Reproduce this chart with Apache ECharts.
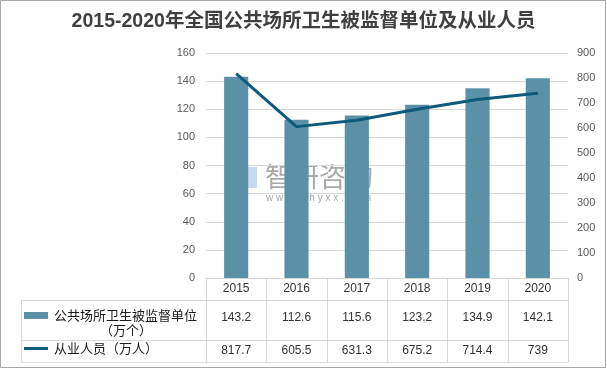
<!DOCTYPE html>
<html><head><meta charset="utf-8">
<script src="https://cdn.jsdelivr.net/npm/echarts@6/dist/echarts.min.js"></script>
<style>html,body{margin:0;padding:0;background:#fff}#c{width:607px;height:369px}</style>
</head><body><div id="c"></div>
<script>
const years = ['2015','2016','2017','2018','2019','2020'];
const units = [143.2, 112.6, 115.6, 123.2, 134.9, 142.1];
const staff = [817.7, 605.5, 631.3, 675.2, 714.4, 739];
const leftTicks = [0, 20, 40, 60, 80, 100, 120, 140, 160];
const rightTicks = [0, 100, 200, 300, 400, 500, 600, 700, 800, 900];
const title = '2015-2020年全国公共场所卫生被监督单位及从业人员';
const seriesNames = ['公共场所卫生被监督单位', '（万个）', '从业人员（万人）'];

const barColor = '#5b91a7', lineColor = '#0d5a79', gridColor = '#d9d9d9';
const FF = '"Liberation Sans","Noto Sans CJK SC",sans-serif';
const chart = echarts.init(document.getElementById('c'));
const G = {left: 206, right: 39, top: 53, bottom: 91};
const x0 = G.left, x1 = 607 - G.right, yAxis0 = 369 - G.bottom;
const rowLines = [300, 340, 362], tableLeft = 21;
const colW = (x1 - x0) / years.length;
const gfx = [];
gfx.push({type:'rect', shape:{x:0.5,y:0.5,width:605,height:367}, style:{fill:null, stroke:'#a6a6a6', lineWidth:1}, silent:true});
rowLines.forEach(y => gfx.push({type:'line', shape:{x1:tableLeft,y1:y+0.5,x2:x1,y2:y+0.5}, style:{stroke:gridColor,lineWidth:1}}));
for (let i = 0; i <= years.length; i++) {
  const x = Math.round(x0 + i*colW) + 0.5;
  gfx.push({type:'line', shape:{x1:x,y1:yAxis0,x2:x,y2:rowLines[2]}, style:{stroke:gridColor,lineWidth:1}});
}
gfx.push({type:'line', shape:{x1:tableLeft+0.5,y1:rowLines[0],x2:tableLeft+0.5,y2:rowLines[2]}, style:{stroke:gridColor,lineWidth:1}});
gfx.push({type:'rect', shape:{x:24,y:312,width:24,height:7}, style:{fill:barColor}});
gfx.push({type:'text', x:54, y:316, style:{text:seriesNames[0], font:'13px '+FF, fill:'#1a1a1a', verticalAlign:'middle'}});
gfx.push({type:'text', x:126, y:331, style:{text:seriesNames[1], font:'13px '+FF, fill:'#1a1a1a', align:'center', verticalAlign:'middle'}});
gfx.push({type:'rect', shape:{x:24,y:347,width:24,height:3}, style:{fill:lineColor}});
gfx.push({type:'text', x:54, y:349, style:{text:seriesNames[2], font:'13px '+FF, fill:'#1a1a1a', verticalAlign:'middle'}});
// watermark (behind bars)
const wm = [
  {type:'rect', shape:{x:233,y:167,width:11,height:21}, style:{fill:'rgba(70,120,190,0.45)'}},
  {type:'rect', shape:{x:246,y:167,width:11,height:21}, style:{fill:'rgba(70,130,210,0.30)'}},
  {type:'text', x:265, y:177, style:{text:'智研咨询', font:'27px "Noto Sans CJK SC"', fill:'rgba(140,140,140,0.75)', verticalAlign:'middle'}},
  {type:'text', x:266, y:198, style:{text:'w w w . c h y x x . c o m', font:'10px '+FF, fill:'rgba(140,140,140,0.75)', verticalAlign:'middle'}}
];
wm.forEach(e => { e.silent = true; gfx.push(e); });

chart.setOption({
  animation:false,
  title:{text:title, left:'center', top:7, textStyle:{fontSize:19.5, fontWeight:'bold', color:'#404040', fontFamily:FF}},
  grid:G,
  xAxis:{type:'category', data:years, axisTick:{show:false},
    axisLine:{lineStyle:{color:gridColor}},
    axisLabel:{margin:0, interval:0, fontFamily:FF,
      formatter:(v, i) => '{a|'+v+'}\n{b|'+units[i]+'}\n{c|'+staff[i]+'}',
      rich:{a:{lineHeight:22,fontSize:12,color:'#333',fontFamily:FF},
            b:{lineHeight:36,fontSize:12,color:'#333',fontFamily:FF},
            c:{lineHeight:30,fontSize:12,color:'#333',fontFamily:FF}}}},
  yAxis:[
    {type:'value', min:leftTicks[0], max:leftTicks[leftTicks.length-1], interval:leftTicks[1]-leftTicks[0],
     axisLabel:{color:'#595959', fontSize:11, fontFamily:FF, margin:11},
     splitLine:{lineStyle:{color:gridColor}}, axisLine:{show:false}, axisTick:{show:false}},
    {type:'value', min:rightTicks[0], max:rightTicks[rightTicks.length-1], interval:rightTicks[1]-rightTicks[0],
     axisLabel:{color:'#595959', fontSize:11, fontFamily:FF, margin:9},
     splitLine:{show:false}, axisLine:{show:false}, axisTick:{show:false}}
  ],
  series:[
    {name:seriesNames[0], type:'bar', data:units, barWidth:'40%', itemStyle:{color:barColor}},
    {name:seriesNames[2], type:'line', yAxisIndex:1, data:staff, symbol:'none', lineStyle:{color:lineColor, width:3}, z:5}
  ],
  graphic:gfx
});
</script></body></html>
